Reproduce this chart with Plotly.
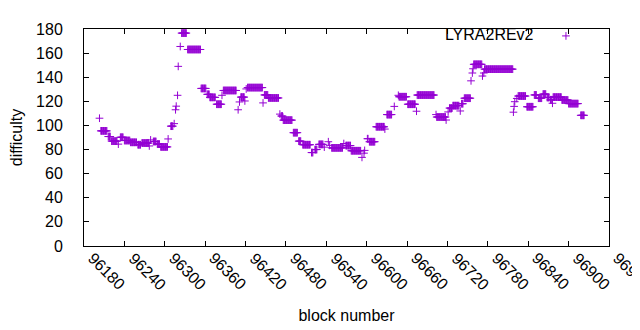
import plotly.graph_objects as go

# Difficulty: runs of consecutive blocks sharing one value
run_start = [96203, 96205, 96216, 96221, 96231, 96234, 96240, 96249, 96260, 96266,
             96277, 96279, 96283, 96289, 96294, 96305, 96309, 96314, 96316, 96317,
             96319, 96320, 96323, 96325, 96334, 96354, 96363, 96367, 96377, 96385,
             96387, 96409, 96411, 96413, 96419, 96421, 96423, 96446, 96448, 96454,
             96471, 96473, 96476, 96491, 96499, 96505, 96518, 96523, 96529, 96537,
             96543, 96545, 96548, 96566, 96569, 96577, 96593, 96596, 96597, 96601,
             96604, 96614, 96627, 96630, 96641, 96647, 96648, 96661, 96674, 96675,
             96703, 96704, 96718, 96721, 96723, 96728, 96739, 96741, 96745, 96755,
             96757, 96758, 96759, 96772, 96774, 96775, 96818, 96819, 96820, 96823,
             96825, 96838, 96849, 96855, 96862, 96868, 96873, 96876, 96877, 96890,
             96900, 96918]
run_end = [96203, 96214, 96219, 96229, 96231, 96238, 96248, 96258, 96264, 96276,
           96277, 96279, 96287, 96292, 96304, 96305, 96312, 96314, 96316, 96317,
           96319, 96320, 96323, 96332, 96353, 96361, 96366, 96375, 96384, 96385,
           96406, 96409, 96411, 96418, 96419, 96421, 96445, 96446, 96453, 96469,
           96471, 96475, 96489, 96497, 96502, 96516, 96520, 96526, 96535, 96537,
           96543, 96545, 96564, 96566, 96576, 96591, 96593, 96596, 96597, 96602,
           96612, 96626, 96627, 96637, 96641, 96647, 96659, 96672, 96674, 96700,
           96703, 96717, 96718, 96721, 96727, 96737, 96739, 96743, 96754, 96755,
           96757, 96758, 96771, 96772, 96774, 96817, 96818, 96819, 96820, 96823,
           96836, 96847, 96852, 96860, 96866, 96871, 96875, 96876, 96889, 96899,
           96914, 96923]
run_difficulty = [106, 95.5, 90.8, 87, 84.5, 90.2, 87.5, 86, 84, 85.4,
                  83, 88, 86.7, 84.6, 82.2, 88.8, 99.4, 101.5, 113, 116,
                  125, 149, 165.5, 176.6, 163, 130.7, 125.8, 123.3, 117.6, 125,
                  129, 113, 119.5, 123.5, 120.3, 130.3, 131.4, 118.7, 125.3, 122.8,
                  109.4, 107.8, 104.4, 94, 87, 84, 77.5, 80, 84.3, 82,
                  86.5, 83.5, 81.4, 85, 83.3, 79, 73.5, 77, 79.3, 89,
                  86.5, 98.9, 97, 109, 115.8, 125, 123.8, 117.6, 111.8, 125.2,
                  109, 107, 104.5, 111.2, 114.4, 116.4, 112, 118, 122.6, 137,
                  143.5, 147, 150.7, 141, 143.5, 146.7, 111, 115.8, 119.7, 122.4,
                  124.4, 115.5, 125.3, 122.6, 126, 123.2, 121.3, 118.4, 123.5, 121.1,
                  118.1, 108.4]

x_ticks = [96180, 96240, 96300, 96360, 96420, 96480, 96540, 96600, 96660,
           96720, 96780, 96840, 96900, 96960]
y_ticks = [0, 20, 40, 60, 80, 100, 120, 140, 160, 180]

blocks, difficulty = [], []
for s, e, d in zip(run_start, run_end, run_difficulty):
    for b in range(s, e + 1):
        blocks.append(b)
        difficulty.append(d)

color = "#9400D3"
font = "Liberation Sans, Arial, sans-serif"
fs = 16

fig = go.Figure()
fig.add_trace(go.Scatter(
    x=blocks, y=difficulty, mode="markers", name=" ",
    marker=dict(symbol="cross-thin", size=5.5, color=color,
                line=dict(color=color, width=1)),
    showlegend=True,
))

axis_common = dict(
    showline=True, linecolor="black", linewidth=1, mirror="ticks",
    ticks="inside", ticklen=5, tickcolor="black", tickwidth=1,
    showgrid=False, zeroline=False, automargin=False,
    tickfont=dict(family=font, size=fs, color="black"),
)

# rotated x tick labels, anchored at their start like the reference
annotations = [
    dict(x=v, y=0, xref="x", yref="paper", text=str(v), showarrow=False,
         textangle=45, xanchor="left", yanchor="top", xshift=-2, yshift=-1,
         font=dict(family=font, size=fs, color="black"))
    for v in x_ticks
]

# the page body adds an 8px offset, so the figure is 8px smaller and margins shifted
fig.update_layout(
    width=632, height=322,
    margin=dict(l=76, r=31, t=11, b=84),
    paper_bgcolor="white", plot_bgcolor="white",
    font=dict(family=font, size=fs, color="black"),
    xaxis=dict(range=[96180, 96960], tickvals=x_ticks, showticklabels=False,
               title=dict(text="block number", font=dict(family=font, size=fs), standoff=63),
               **axis_common),
    yaxis=dict(range=[0, 180], tickvals=y_ticks, ticktext=[str(v) for v in y_ticks],
               ticklabelstandoff=17,
               title=dict(text="difficulty", font=dict(family=font, size=fs), standoff=16),
               **axis_common),
    legend=dict(x=0.975, y=1.046, xanchor="right", yanchor="top", bgcolor="rgba(0,0,0,0)",
                title=dict(text="LYRA2REv2&nbsp;", side="left",
                           font=dict(family=font, size=fs)),
                font=dict(family=font, size=fs), itemwidth=30),
    showlegend=True,
    annotations=annotations,
)

fig.write_html("out.html")
